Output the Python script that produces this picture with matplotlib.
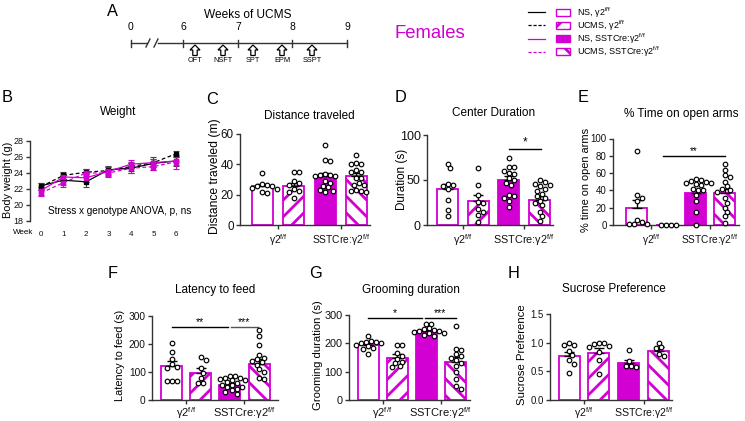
import numpy as np
import matplotlib
matplotlib.use('Agg')
import matplotlib.pyplot as plt
from matplotlib.patches import Rectangle, Polygon

plt.rcParams['font.family'] = ['Liberation Sans', 'DejaVu Sans']
plt.rcParams['mathtext.fontset'] = 'custom'
plt.rcParams['mathtext.rm'] = 'Liberation Sans'
plt.rcParams['mathtext.it'] = 'Liberation Sans:italic'
plt.rcParams['mathtext.bf'] = 'Liberation Sans:bold'
plt.rcParams['hatch.linewidth'] = 2.0

MAG = '#D200D2'
AXC = '#333333'
W, H = 745, 421

# ---------------- data ----------------
group_labels = [r'NS, γ2$^{\mathrm{f/f}}$', r'UCMS, γ2$^{\mathrm{f/f}}$',
                r'NS, SSTCre:γ2$^{\mathrm{f/f}}$', r'UCMS, SSTCre:γ2$^{\mathrm{f/f}}$']
genotype_labels = [r'γ2$^{\mathrm{f/f}}$', r'SSTCre:γ2$^{\mathrm{f/f}}$']

timeline_weeks = ['0', '6', '7', '8', '9']
timeline_tests = ['OFT', 'NSFT', 'SPT', 'EPM', 'SSPT']

weeks = [0, 1, 2, 3, 4, 5, 6]
w_ns_ff = [22.4, 23.1, 22.9, 24.4, 24.6, 25.2, 25.5]
w_ns_ff_err = [0.4, 0.6, 0.7, 0.5, 0.6, 0.8, 0.6]
w_ucms_ff = [22.3, 23.7, 24.1, 24.3, 24.8, 25.3, 26.4]
w_ucms_ff_err = [0.4, 0.4, 0.4, 0.5, 0.6, 0.5, 0.4]
w_ns_sst = [21.8, 23.5, 23.4, 24.2, 25.1, 25.3, 25.5]
w_ns_sst_err = [0.5, 0.5, 0.5, 0.6, 0.5, 0.5, 0.5]
w_ucms_sst = [21.5, 22.8, 24.0, 24.0, 24.6, 24.8, 25.4]
w_ucms_sst_err = [0.4, 0.5, 0.5, 0.5, 0.6, 0.4, 0.9]

dist_mean = [25.5, 26.0, 32.0, 32.0]
dist_err = [1.5, 2.0, 2.3, 2.3]
dist_pts = [
    [34, 27, 26.5, 26, 26, 24.5, 24, 21.5, 21],
    [35, 35, 28.7, 28, 26.5, 24, 22.5, 21.6, 18],
    [53, 43, 42, 33.5, 33, 33, 32.5, 32, 29, 28, 26, 25, 23, 22.5, 22],
    [46, 41, 40, 40, 36, 35, 35, 31, 31, 28, 26.5, 26.5, 22.5, 22.5, 23, 22],
]

center_mean = [40, 27, 50, 28]
center_err = [6, 6, 4, 4]
center_pts = [
    [68, 63, 46, 44, 43, 40, 28, 17, 10],
    [63, 45, 33, 26, 24, 18, 15, 11, 3],
    [75, 64, 64, 60, 58, 57, 52, 50, 47, 45, 33, 32, 30, 27, 20],
    [50, 48, 46, 45, 43, 40, 38, 35, 32, 30, 27, 25, 22, 15, 10, 5],
]

epm_mean = [20, 0.5, 37, 37]
epm_err = [9, 0.3, 4, 5]
epm_pts = [
    [85, 35, 31, 28, 6, 3, 1, 1, 1],
    [0.5, 0.5, 0.5, 0.5],
    [53, 52, 51, 50, 49, 48, 47, 46, 42, 41, 40, 35, 28, 15, 0.5],
    [70, 64, 58, 56, 50, 45, 42, 40, 38, 31, 26, 20, 15, 10, 2],
]

lat_mean = [120, 95, 55, 130]
lat_err = [18, 18, 7, 17]
lat_pts = [
    [202, 170, 146, 127, 118, 115, 68, 68, 68],
    [154, 142, 115, 98, 77, 60, 60],
    [87, 85, 80, 80, 76, 72, 70, 64, 60, 55, 52, 48, 45, 40, 34, 28, 20],
    [250, 228, 195, 160, 150, 145, 140, 135, 125, 110, 100, 80, 75],
]

groom_mean = [193, 150, 245, 135]
groom_err = [7, 12, 5, 17]
groom_pts = [
    [225, 210, 205, 205, 200, 200, 195, 190, 185, 180, 163],
    [195, 195, 165, 155, 145, 135, 130, 120, 115],
    [270, 270, 255, 250, 248, 245, 242, 240, 238, 235, 230, 225],
    [262, 180, 178, 162, 155, 150, 140, 130, 120, 100, 75, 50, 40],
]

sucr_mean = [0.77, 0.82, 0.65, 0.86]
sucr_err = [0.07, 0.08, 0.05, 0.06]
sucr_pts = [
    [1.0, 0.96, 0.96, 0.86, 0.78, 0.70, 0.63, 0.47],
    [1.0, 1.0, 0.98, 0.95, 0.93, 0.84, 0.70, 0.45],
    [0.87, 0.68, 0.60, 0.58, 0.59],
    [1.0, 0.92, 0.90, 0.80, 0.77],
]

# ---------------- figure ----------------
fig = plt.figure(figsize=(W / 100, H / 100), dpi=100)
fig.patch.set_facecolor('white')

ov = fig.add_axes([0, 0, 1, 1])
ov.set_xlim(0, W)
ov.set_ylim(H, 0)
ov.axis('off')
ov.patch.set_alpha(0)


def add_ax(left, top, right, bottom):
    return fig.add_axes([left / W, 1 - bottom / H, (right - left) / W, (bottom - top) / H])


def style_ax(ax, fs):
    for s in ['top', 'right']:
        ax.spines[s].set_visible(False)
    for s in ['left', 'bottom']:
        ax.spines[s].set_color(AXC)
        ax.spines[s].set_linewidth(1.0)
    ax.tick_params(direction='out', length=3, width=1.0, color=AXC,
                   labelsize=fs, pad=1.5, labelcolor='#111111')
    ax.patch.set_alpha(0)


def swarm_x(ax, xc, vals, diam_px=4.8, step_px=2.5):
    vals = np.asarray(vals, float)
    n = len(vals)
    ypx = ax.transData.transform(np.column_stack([np.full(n, xc), vals]))[:, 1]
    sx = ax.transData.transform([[1, 0]])[0, 0] - ax.transData.transform([[0, 0]])[0, 0]
    order = np.argsort(-vals, kind='stable')
    offs = np.zeros(n)
    placed = []
    cands = [0.0]
    for k in range(1, 25):
        cands += [k * step_px, -k * step_px]
    for i in order:
        chosen = cands[-1]
        for c in cands:
            if all((c - offs[j]) ** 2 + (ypx[i] - ypx[j]) ** 2 >= diam_px ** 2 for j in placed):
                chosen = c
                break
        offs[i] = chosen
        placed.append(i)
    return xc + offs / sx


face = ['white', 'white', MAG, 'white']
hatches = ['', '//', '', '\\\\']


def bar_panel(box, centers, ylim, yticks, means, errs, pts_list, tick_fs, xfs,
              sigs=(), sig_fs=7.5, yfmt=None, xpad=2.5):
    left, top, right, bottom = box
    c0, c3 = centers
    s = (c3 - c0) / 3.0
    ax = add_ax(left, top, right, bottom)
    ax.set_xlim((left - c0) / s, 3 + (right - c3) / s)
    ax.set_ylim(*ylim)
    style_ax(ax, tick_fs)
    x = np.arange(4)
    ax.bar(x, means, width=21 / s, color=face, edgecolor=MAG, linewidth=1.3, zorder=2)
    for b, h in zip(ax.patches, hatches):
        if h:
            b.set_hatch(h)
    ax.errorbar(x, means, yerr=[np.zeros(4), errs], fmt='none', ecolor='black',
                elinewidth=1.0, capsize=3.5, capthick=1.0, zorder=3)
    for i, p in enumerate(pts_list):
        xs = swarm_x(ax, i, p)
        ax.plot(xs, p, 'o', ms=3.3, mfc='white', mec='black', mew=0.85,
                zorder=4, clip_on=False)
    ax.set_yticks(yticks)
    if yfmt:
        ax.set_yticklabels([yfmt.format(v) for v in yticks])
    ax.set_xticks([0.5, 2.5])
    ax.set_xticklabels(genotype_labels, fontsize=xfs)
    ax.tick_params(axis='x', pad=xpad)
    for (x1, x2, y, txt, col) in sigs:
        ax.plot([x1, x2], [y, y], color=col, lw=1.0, zorder=3, clip_on=False)
        ax.text((x1 + x2) / 2, y, txt, ha='center', va='bottom', fontsize=sig_fs,
                zorder=5)
    return ax


# ---------------- Panel A (timeline) ----------------
tl_x = [131, 183, 238, 292, 347]
ov.plot([131, 147], [43, 43], color='#333', lw=1.0)
ov.plot([158, 347], [43, 43], color='#333', lw=1.0)
ov.plot([146, 150], [47, 39], color='#333', lw=1.0)
ov.plot([154, 158], [47, 39], color='#333', lw=1.0)
for xx, lab in zip(tl_x, timeline_weeks):
    ov.plot([xx, xx], [39.5, 47], color='#333', lw=1.0)
    ov.text(xx, 27, lab, ha='center', va='center', fontsize=7.5)
ov.text(248, 15, 'Weeks of UCMS', ha='center', va='center', fontsize=8.6)
arrow_x = [195, 223, 253, 282, 312]
for xx, lab in zip(arrow_x, timeline_tests):
    shape = [(xx, 45), (xx + 5, 50), (xx + 2.2, 50), (xx + 2.2, 55.5),
             (xx - 2.2, 55.5), (xx - 2.2, 50), (xx - 5, 50)]
    ov.add_patch(Polygon(shape, closed=True, facecolor='white', edgecolor='black', lw=0.9))
    ov.text(xx, 61, lab, ha='center', va='center', fontsize=5.3)

# Legend
leg_y = [12, 25, 38.5, 51.5]
leg_lc = ['black', 'black', MAG, MAG]
leg_ls = ['-', '--', '-', '--']
for y, lc, ls, fc, hh, lab in zip(leg_y, leg_lc, leg_ls, face, hatches, group_labels):
    ov.plot([528, 545], [y, y], color=lc, ls=ls, lw=0.9,
            dashes=(2.5, 1.5) if ls == '--' else (None, None))
    r = Rectangle((556, y - 3.5), 14, 7, facecolor=fc, edgecolor=MAG, lw=1.0,
                  hatch=hh if hh else None)
    ov.add_patch(r)
    ov.text(577, y + 0.5, lab, ha='left', va='center', fontsize=6.5)
ov.text(430, 33, 'Females', ha='center', va='center', fontsize=13.3, color=MAG)

# ---------------- Panel letters, titles, ylabels ----------------
letters = [('A', 112, 12), ('B', 7, 97), ('C', 212, 99), ('D', 400, 97), ('E', 583, 97),
           ('F', 113, 274), ('G', 315, 274), ('H', 514, 274)]
for t, x, y in letters:
    ov.text(x, y, t, ha='center', va='center', fontsize=11.8)

titles = [('Weight', 118, 112), ('Distance traveled', 309, 116), ('Center Duration', 494, 113),
          ('% Time on open arms', 681, 114), ('Latency to feed', 215, 290),
          ('Grooming duration', 411, 290), ('Sucrose Preference', 614, 289)]
for t, x, y in titles:
    ov.text(x, y, t, ha='center', va='center', fontsize=8.5)

ylabels = [('Body weight (g)', 8, 180, 7.8), ('Distance traveled (m)', 215, 176, 8.7),
           ('Duration (s)', 402, 179, 8.4), ('% time on open arms', 586, 180, 7.9),
           ('Latency to feed (s)', 120, 355, 7.9), ('Grooming duration (s)', 318, 355, 8.1),
           ('Sucrose Preference', 522, 355, 8.2)]
for t, x, y, fs in ylabels:
    ov.text(x, y, t, ha='center', va='center', rotation=90, fontsize=fs)

# ---------------- Panel B (weights) ----------------
axB = add_ax(30, 141, 186, 221)
sB = (176 - 41) / 6.0
axB.set_xlim((30 - 41) / sB, 6 + (186 - 176) / sB)
axB.set_ylim(18, 28)
style_ax(axB, 6.5)
axB.spines['bottom'].set_visible(False)
axB.set_yticks([18, 20, 22, 24, 26, 28])
axB.set_xticks(weeks)
axB.set_xticklabels([str(w) for w in weeks], fontsize=5.8)
axB.tick_params(axis='x', length=0, pad=7)
series = [(w_ns_ff, w_ns_ff_err, 'black', '-'), (w_ucms_ff, w_ucms_ff_err, 'black', '--'),
          (w_ns_sst, w_ns_sst_err, MAG, '-'), (w_ucms_sst, w_ucms_sst_err, MAG, '--')]
for vals, err, col, ls in series:
    axB.errorbar(weeks, vals, yerr=err, color=col, ls=ls, lw=0.9, marker='s', ms=3.0,
                 mec=col, mfc=col, ecolor='#444444' if col == 'black' else col,
                 elinewidth=0.8, capsize=2.0, capthick=0.8,
                 dashes=(3, 2) if ls == '--' else (None, None))
ov.text(23, 233, 'Week', ha='center', va='center', fontsize=5.8)
ov.text(120, 211, 'Stress x genotype ANOVA, p, ns', ha='center', va='center', fontsize=7.2)

# ---------------- Bar panels ----------------
bar_panel((240, 134, 370, 225), (262.5, 356.5), (0, 60), [0, 20, 40, 60],
          dist_mean, dist_err, dist_pts, 8.4, 7.4)
bar_panel((427, 135, 553, 225), (447.5, 539.5), (0, 100), [0, 50, 100],
          center_mean, center_err, center_pts, 9.0, 7.8,
          sigs=[(2.0, 3.05, 85, '*', 'black')], sig_fs=8.5)
bar_panel((613, 138.5, 739, 225), (636.5, 725), (0, 100), [0, 20, 40, 60, 80, 100],
          epm_mean, epm_err, epm_pts, 7.0, 7.3,
          sigs=[(0.9, 3.0, 80, '**', 'black')], sig_fs=7)
bar_panel((152, 316, 278, 400), (171.5, 259), (0, 300), [0, 100, 200, 300],
          lat_mean, lat_err, lat_pts, 7.3, 8.0,
          sigs=[(0.0, 1.95, 260, '**', 'black'), (2.05, 2.95, 260, '***', '#555555')],
          sig_fs=7.5, xpad=0.8)
bar_panel((349, 315, 470, 400), (368, 455.5), (0, 300), [0, 100, 200, 300],
          groom_mean, groom_err, groom_pts, 7.8, 8.0,
          sigs=[(0.0, 1.85, 290, '*', 'black'), (1.95, 3.0, 290, '***', 'black')],
          sig_fs=7.5, xpad=0.8)
bar_panel((550, 314, 672, 400), (569, 658.5), (0, 1.5), [0.0, 0.5, 1.0, 1.5],
          sucr_mean, sucr_err, sucr_pts, 6.9, 7.6, yfmt='{:.1f}', xpad=0.8)

fig.savefig('out.png', dpi=100, facecolor='white')
